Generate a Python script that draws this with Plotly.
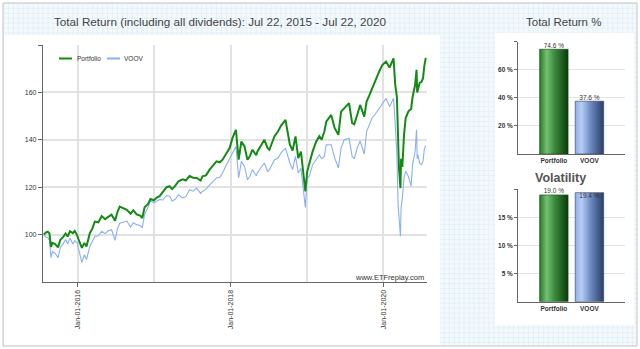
import base64
import plotly.graph_objects as go

# ---------------- data ----------------
dates = [
    "2015-07-22", "2015-07-31", "2015-08-10", "2015-08-18", "2015-08-25", "2015-09-01", "2015-09-14",
    "2015-09-28", "2015-10-09", "2015-10-21", "2015-11-03", "2015-11-13", "2015-11-24", "2015-12-08",
    "2015-12-17", "2015-12-28", "2016-01-08", "2016-01-20", "2016-02-01", "2016-02-11", "2016-02-27",
    "2016-03-10", "2016-03-22", "2016-04-08", "2016-04-24", "2016-05-10", "2016-05-25", "2016-06-10",
    "2016-06-27", "2016-07-08", "2016-07-19", "2016-08-05", "2016-08-22", "2016-09-09", "2016-09-22",
    "2016-10-08", "2016-10-25", "2016-11-04", "2016-11-15", "2016-12-01", "2016-12-13", "2016-12-30",
    "2017-01-12", "2017-01-26", "2017-02-10", "2017-02-28", "2017-03-15", "2017-03-27", "2017-04-12",
    "2017-04-26", "2017-05-16", "2017-05-31", "2017-06-18", "2017-07-05", "2017-07-22", "2017-08-10",
    "2017-08-19", "2017-09-05", "2017-09-22", "2017-10-10", "2017-10-25", "2017-11-10", "2017-11-23",
    "2017-12-08", "2017-12-27", "2018-01-09", "2018-01-26", "2018-02-08", "2018-02-21", "2018-03-08",
    "2018-03-22", "2018-04-02", "2018-04-15", "2018-05-03", "2018-05-09", "2018-05-25", "2018-06-11",
    "2018-06-27", "2018-07-05", "2018-07-29", "2018-08-15", "2018-08-30", "2018-09-20", "2018-10-11",
    "2018-10-24", "2018-11-07", "2018-11-20", "2018-12-03", "2018-12-14", "2018-12-24", "2019-01-02",
    "2019-01-12", "2019-01-28", "2019-02-14", "2019-03-01", "2019-03-12", "2019-03-25", "2019-04-03",
    "2019-04-27", "2019-05-13", "2019-05-31", "2019-06-13", "2019-06-28", "2019-07-21", "2019-08-05",
    "2019-08-15", "2019-08-29", "2019-09-12", "2019-10-02", "2019-10-13", "2019-10-25", "2019-11-08",
    "2019-11-25", "2019-12-12", "2019-12-27", "2020-01-14", "2020-01-31", "2020-02-19", "2020-02-27",
    "2020-03-06", "2020-03-12", "2020-03-16", "2020-03-23", "2020-03-26", "2020-04-01", "2020-04-09",
    "2020-04-17", "2020-04-30", "2020-05-13", "2020-05-20", "2020-06-01", "2020-06-08", "2020-06-11",
    "2020-06-15", "2020-06-23", "2020-07-02", "2020-07-09", "2020-07-15", "2020-07-22",
]
portfolio = [
    100.0, 100.8, 101.2, 100.5, 94.8, 96.5, 96.0,
    94.6, 97.8, 98.8, 100.5, 99.2, 101.4, 100.6,
    101.5, 99.8, 97.0, 94.4, 96.5, 95.0, 100.6,
    102.5, 105.5, 105.2, 107.8, 106.5, 107.5, 108.4,
    105.8, 109.5, 111.8, 111.0, 110.5, 108.8, 110.2,
    108.5, 108.0, 107.0, 111.5, 112.8, 115.0, 114.5,
    115.6, 116.2, 117.8, 120.0, 120.4, 119.2, 120.8,
    122.5, 123.3, 122.8, 124.7, 124.0, 123.9, 122.8,
    124.6, 125.0, 127.4, 129.2, 130.9, 130.5, 131.6,
    133.8, 136.5, 140.7, 144.2, 131.6, 139.3, 137.2,
    131.6, 133.0, 135.8, 133.5, 135.1, 137.5, 140.0,
    136.5, 135.8, 141.4, 143.5, 146.0, 148.4, 137.9,
    135.5, 141.4, 132.3, 135.0, 126.0, 118.2, 126.7,
    130.0, 135.1, 139.3, 141.5, 140.0, 143.5, 147.7,
    150.5, 145.0, 142.1, 151.9, 153.5, 155.5, 147.0,
    146.5, 150.5, 154.7, 149.8, 156.1, 158.5, 161.7,
    165.0, 168.8, 171.5, 173.0, 170.5, 174.4, 163.2,
    158.0, 140.0, 128.0, 119.6, 132.0, 128.5, 142.0,
    149.2, 152.0, 153.0, 158.0, 163.0, 169.5, 160.0,
    161.7, 164.0, 164.5, 166.0, 171.0, 174.6,
]
voov = [
    100.0, 99.0, 98.8, 97.5, 90.3, 92.8, 92.2,
    90.2, 94.6, 95.9, 97.9, 96.0, 98.6, 96.0,
    97.5, 96.6, 92.5, 88.3, 91.5, 89.5, 95.0,
    96.8, 99.2, 99.5, 101.4, 100.4, 101.6, 102.1,
    97.6, 102.5, 104.8, 105.2, 105.7, 103.2, 105.0,
    104.2, 103.8, 102.8, 108.5, 111.5, 114.3, 113.4,
    114.2, 114.8, 114.6, 116.5, 116.2, 114.2, 115.0,
    116.8, 115.5, 116.0, 118.9, 118.3, 119.6, 117.4,
    118.2, 119.2, 121.0, 122.5, 123.9, 124.2, 126.0,
    128.8, 132.3, 134.5, 137.2, 123.9, 130.9, 128.8,
    123.2, 124.5, 127.4, 124.8, 126.0, 128.2, 130.2,
    126.5, 127.4, 131.5, 132.3, 134.5, 136.5, 130.2,
    127.5, 133.0, 126.0, 128.0, 119.0, 111.5, 123.9,
    124.6, 129.5, 131.8, 133.7, 132.0, 133.0, 137.9,
    137.9, 132.5, 128.1, 136.5, 140.0, 140.7, 133.0,
    132.0, 136.5, 139.5, 134.0, 143.5, 146.0, 149.2,
    151.0, 153.3, 155.5, 157.5, 154.0, 157.5, 146.3,
    133.7, 112.0, 108.4, 99.3, 111.0, 115.4, 124.0,
    126.7, 124.5, 120.5, 129.5, 135.0, 144.2, 132.0,
    133.7, 130.0, 129.5, 131.0, 136.0, 137.6,
]

categories = ["Portfolio", "VOOV"]
total_return = [74.6, 37.6]
volatility = [19.0, 19.4]

line_ticks = ["2016-01-01", "2018-01-01", "2020-01-01"]
line_tick_text = ["Jan-01-2016", "Jan-01-2018", "Jan-01-2020"]
minor_ticks = ["2017-01-01", "2019-01-01"]
y_ticks = [100, 120, 140, 160, 180]
y_tick_text = ["100", "120", "140", "160", ""]

# ---------------- helpers for layout positions ----------------
W, H = 640, 349
def fx(px):
    return px / W
def fy(py):
    return 1 - py / H

FONT = "Liberation Sans, Arial, sans-serif"
GREEN = "#148a14"
BLUE = "#8ab0f0"
GRID = "#e2e2e2"
AXIS = "#666666"

# grid-paper background pattern (decorative)
svg = (
    '<svg xmlns="http://www.w3.org/2000/svg" width="640" height="349">'
    '<defs><pattern id="g" width="5" height="5" patternUnits="userSpaceOnUse">'
    '<rect width="5" height="5" fill="#f3f9fc"/>'
    '<path d="M5 0 L0 0 0 5" fill="none" stroke="#d8eaf4" stroke-width="1"/>'
    '</pattern></defs><rect width="640" height="349" fill="url(#g)"/></svg>'
)
bg_src = "data:image/svg+xml;base64," + base64.b64encode(svg.encode()).decode()

fig = go.Figure()

# ---------------- line chart ----------------
fig.add_trace(go.Scatter(x=dates, y=voov, mode="lines", line=dict(color=BLUE, width=1.1),
                         xaxis="x", yaxis="y", name="VOOV", hoverinfo="skip"))
fig.add_trace(go.Scatter(x=dates, y=portfolio, mode="lines", line=dict(color=GREEN, width=2),
                         xaxis="x", yaxis="y", name="Portfolio", hoverinfo="skip"))

# ---------------- bar charts (gradient-filled) ----------------
green_scale = [[0, "#1f7f1f"], [0.25, "#78bf78"], [0.5, "#3f8f3f"], [1, "#0c3a0c"]]
blue_scale = [[0, "#8eb0ec"], [0.22, "#b6cdf6"], [0.55, "#6c88bd"], [1, "#2a3e66"]]
scales = [green_scale, blue_scale]
edge = ["#0e4a0e", "#2a3b5e"]
half = 0.4

def add_bars(values, xa, ya, label_pos):
    for i, v in enumerate(values):
        xs = [i - half, i + half, i + half, i - half, i - half]
        ys = [0, 0, v, v, 0]
        fig.add_trace(go.Scatter(
            x=xs, y=ys, mode="lines", fill="toself",
            fillgradient=dict(type="horizontal", colorscale=scales[i]),
            line=dict(color=edge[i], width=0.6),
            xaxis=xa, yaxis=ya, hoverinfo="skip", showlegend=False))
    fig.add_trace(go.Scatter(
        x=list(range(len(values))), y=values, mode="text",
        text=[f"{v:.1f} %" for v in values], textposition=label_pos,
        textfont=dict(family=FONT, size=6.5, color="#333"),
        xaxis=xa, yaxis=ya, hoverinfo="skip", showlegend=False, cliponaxis=False))

add_bars(total_return, "x2", "y2", ["top center", "top center"])
add_bars(volatility, "x3", "y3", ["top center", "bottom center"])

# ---------------- layout ----------------
shapes = [
    # outer frame
    dict(type="rect", xref="paper", yref="paper", x0=fx(3), x1=fx(637), y0=fy(346), y1=fy(3),
         fillcolor="rgba(0,0,0,0)", line=dict(color="#c4c4c4", width=1), layer="below"),
    # left white panel
    dict(type="rect", xref="paper", yref="paper", x0=fx(4), x1=fx(440), y0=fy(345), y1=fy(35),
         fillcolor="white", line=dict(width=0), layer="below"),
    # right white panel
    dict(type="rect", xref="paper", yref="paper", x0=fx(495), x1=fx(634), y0=fy(325), y1=fy(33),
         fillcolor="white", line=dict(width=0), layer="below"),
    # legend samples
    dict(type="line", xref="paper", yref="paper", x0=fx(59), x1=fx(72), y0=fy(58.5), y1=fy(58.5),
         line=dict(color=GREEN, width=2)),
    dict(type="line", xref="paper", yref="paper", x0=fx(107), x1=fx(120), y0=fy(58.5), y1=fy(58.5),
         line=dict(color=BLUE, width=2)),
]

annotations = [
    dict(text="Total Return (including all dividends): Jul 22, 2015 - Jul 22, 2020",
         x=fx(220), y=fy(22), xref="paper", yref="paper", showarrow=False,
         font=dict(family=FONT, size=11.7, color="#444"), xanchor="center", yanchor="middle"),
    dict(text="Total Return %", x=fx(563), y=fy(22), xref="paper", yref="paper", showarrow=False,
         font=dict(family=FONT, size=11.5, color="#444"), xanchor="center", yanchor="middle"),
    dict(text="<b>Volatility</b>", x=fx(560), y=fy(178), xref="paper", yref="paper", showarrow=False,
         font=dict(family=FONT, size=12.5, color="#555"), xanchor="center", yanchor="middle"),
    dict(text="Portfolio", x=fx(75), y=fy(58.5), xref="paper", yref="paper", showarrow=False,
         font=dict(family=FONT, size=6.5, color="#333"), xanchor="left", yanchor="middle"),
    dict(text="VOOV", x=fx(122), y=fy(58.5), xref="paper", yref="paper", showarrow=False,
         font=dict(family=FONT, size=6.5, color="#333"), xanchor="left", yanchor="middle"),
    dict(text="www.ETFreplay.com", x=fx(426), y=fy(277), xref="paper", yref="paper", showarrow=False,
         font=dict(family=FONT, size=7.5, color="#333"), xanchor="right", yanchor="middle"),
]

tickfont_small = dict(family=FONT, size=7, color="#333")
bar_tickfont = dict(family=FONT, size=6.5, color="#333", weight="bold")

fig.update_layout(
    width=W, height=H, margin=dict(l=0, r=0, t=0, b=0),
    paper_bgcolor="white", plot_bgcolor="rgba(0,0,0,0)",
    showlegend=False, shapes=shapes, annotations=annotations,
    images=[dict(source=bg_src, xref="paper", yref="paper", x=fx(3), y=fy(3),
                 sizex=fx(637) - fx(3), sizey=fy(3) - fy(346), sizing="stretch",
                 xanchor="left", yanchor="top", layer="below")],
    xaxis=dict(domain=[fx(43), fx(427)], type="date", range=["2015-07-18", "2020-07-28"],
               tickmode="array", tickvals=line_ticks, ticktext=line_tick_text, tickangle=-90,
               tickfont=tickfont_small, ticks="outside", ticklen=4, tickcolor=AXIS,
               showgrid=True, gridcolor=GRID, gridwidth=1.5,
               minor=dict(tickmode="array", tickvals=minor_ticks, showgrid=True,
                          gridcolor=GRID, gridwidth=1.5, ticks=""),
               showline=True, linecolor=AXIS, linewidth=1.2, zeroline=False, anchor="y"),
    yaxis=dict(domain=[fy(282), fy(45)], range=[80, 180], tickmode="array",
               tickvals=y_ticks, ticktext=y_tick_text, tickfont=tickfont_small,
               ticks="outside", ticklen=4, tickcolor=AXIS,
               showgrid=True, gridcolor=GRID, gridwidth=1.5,
               showline=True, linecolor=AXIS, linewidth=1.2, zeroline=False, anchor="x"),
    xaxis2=dict(domain=[fx(518.3), fx(625)], range=[-1, 2], tickmode="array",
                tickvals=[0, 1], ticktext=categories, tickfont=bar_tickfont, ticks="",
                showgrid=False, showline=True, linecolor=AXIS, linewidth=1.2,
                zeroline=False, anchor="y2", fixedrange=True),
    yaxis2=dict(domain=[fy(154), fy(41.7)], range=[0, 80], tickmode="array",
                tickvals=[20, 40, 60, 80], ticktext=["20 %", "40 %", "60 %", ""],
                tickfont=bar_tickfont, ticks="outside", ticklen=3, tickcolor=AXIS,
                showgrid=True, gridcolor=GRID, gridwidth=1.2,
                showline=True, linecolor=AXIS, linewidth=1.2, zeroline=False, anchor="x2"),
    xaxis3=dict(domain=[fx(518.3), fx(625)], range=[-1, 2], tickmode="array",
                tickvals=[0, 1], ticktext=categories, tickfont=bar_tickfont, ticks="",
                showgrid=False, showline=True, linecolor=AXIS, linewidth=1.2,
                zeroline=False, anchor="y3"),
    yaxis3=dict(domain=[fy(301.7), fy(189.3)], range=[0, 20], tickmode="array",
                tickvals=[5, 10, 15, 20], ticktext=["5 %", "10 %", "15 %", ""],
                tickfont=bar_tickfont, ticks="outside", ticklen=3, tickcolor=AXIS,
                showgrid=True, gridcolor=GRID, gridwidth=1.2,
                showline=True, linecolor=AXIS, linewidth=1.2, zeroline=False, anchor="x3"),
)

fig.write_html("out.html")
